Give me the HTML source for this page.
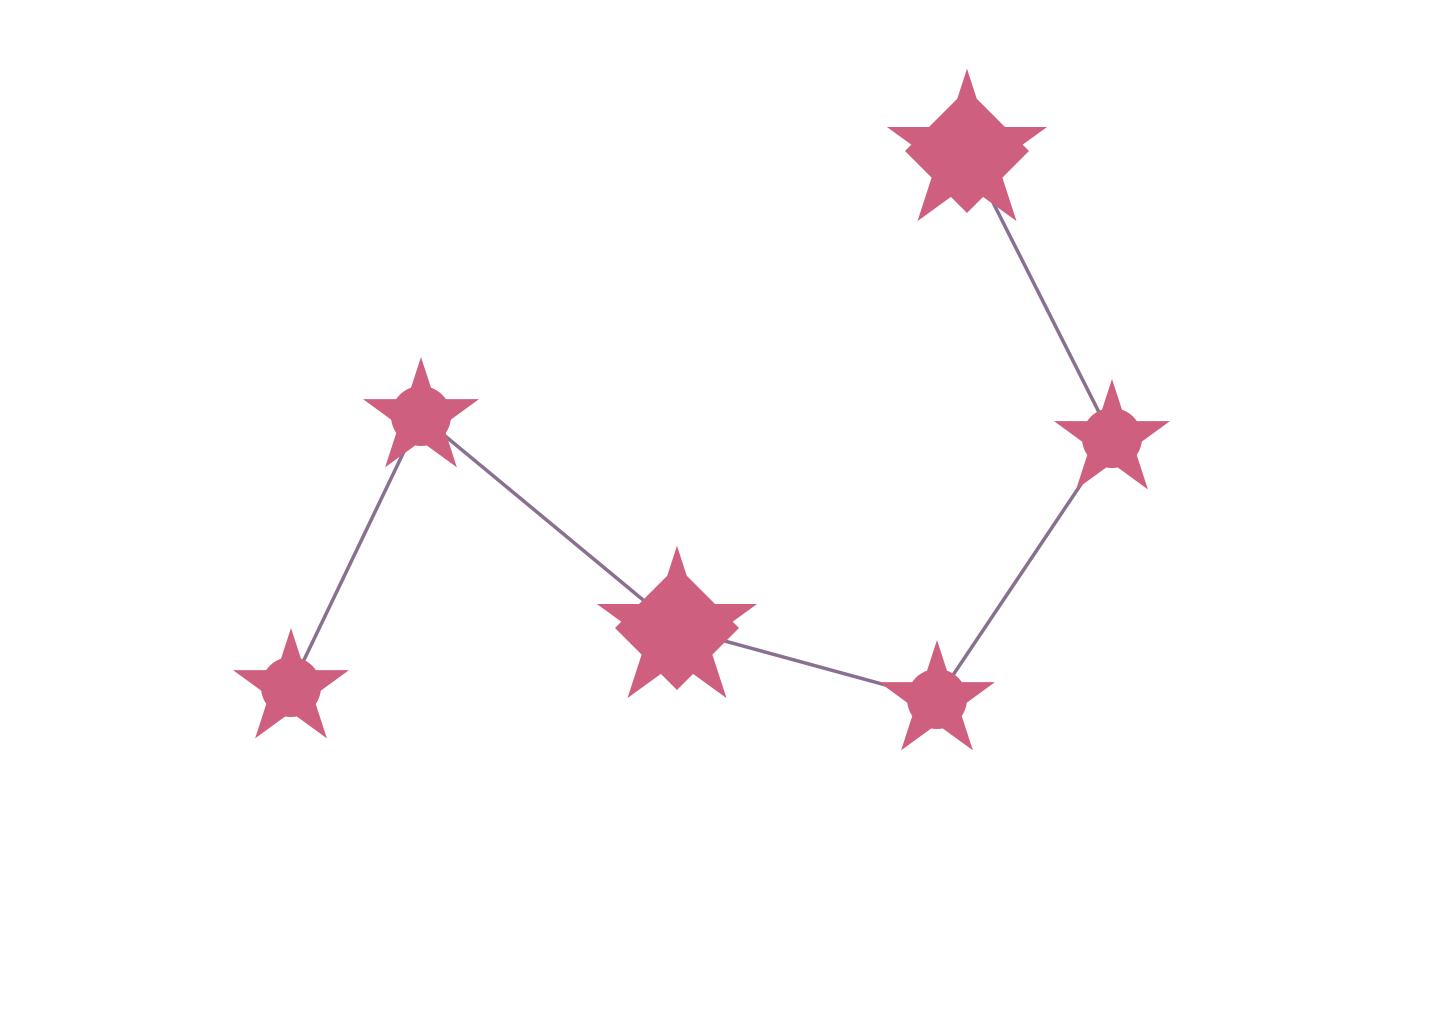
<!DOCTYPE html>
<html><head><meta charset="utf-8"><style>html,body{margin:0;padding:0;background:#fff;}svg{display:block}</style></head>
<body>
<svg id="chart" width="1440" height="1024" viewBox="0 0 1440 1024" xmlns="http://www.w3.org/2000/svg">
<g id="plot"></g>
</svg>
<script>
const xValues = [2.91, 4.21, 6.77, 9.37, 11.12, 9.67];
const yValues = [3.37, 6.08, 3.96, 3.25, 5.86, 8.73];
const markerSizes = [1, 1, 1.38, 1, 1, 1.38];
const markerKinds = ['circle', 'circle', 'diamond', 'circle', 'circle', 'diamond'];

function xScale(v) { return v * 100; }
function yScale(v) { return 1024 - v * 100; }

const NS = 'http://www.w3.org/2000/svg';
const plot = document.getElementById('plot');

const pts = xValues.map((x, i) => [xScale(x), yScale(yValues[i])]);
const line = document.createElementNS(NS, 'polyline');
line.setAttribute('points', pts.map(p => p.join(',')).join(' '));
line.setAttribute('fill', 'none');
line.setAttribute('stroke', '#8a7090');
line.setAttribute('stroke-width', '3.5');


plot.appendChild(line);

function starPath(cx, cy, R) {
  const r = R * 0.382;
  let d = '';
  for (let k = 0; k < 10; k++) {
    const rad = k % 2 === 0 ? R : r;
    const a = -Math.PI / 2 + k * Math.PI / 5;
    d += (k ? 'L' : 'M') + (cx + rad * Math.cos(a)).toFixed(1) + ',' + (cy + rad * Math.sin(a)).toFixed(1);
  }
  return d + 'Z';
}

pts.forEach((p, i) => {
  const g = document.createElementNS(NS, 'g');
  
  
  const s = markerSizes[i];
  const R = 61 * s;
  const star = document.createElementNS(NS, 'path');
  star.setAttribute('d', starPath(p[0], p[1] + 2, R));
  star.setAttribute('fill', '#cf5f7f');
  
  
  g.appendChild(star);
  if (markerKinds[i] === 'circle') {
    const c = document.createElementNS(NS, 'circle');
    c.setAttribute('cx', p[0]); c.setAttribute('cy', p[1]); c.setAttribute('r', 30 * s);
    c.setAttribute('fill', '#cf5f7f');
    
    
    g.appendChild(c);
  } else {
    const h = 62;
    const d = document.createElementNS(NS, 'path');
    d.setAttribute('d', `M${p[0]},${p[1]-h}L${p[0]+h},${p[1]}L${p[0]},${p[1]+h}L${p[0]-h},${p[1]}Z`);
    d.setAttribute('fill', '#cf5f7f');
    
    
    g.appendChild(d);
  }
  plot.appendChild(g);
});
</script>
</body></html>
